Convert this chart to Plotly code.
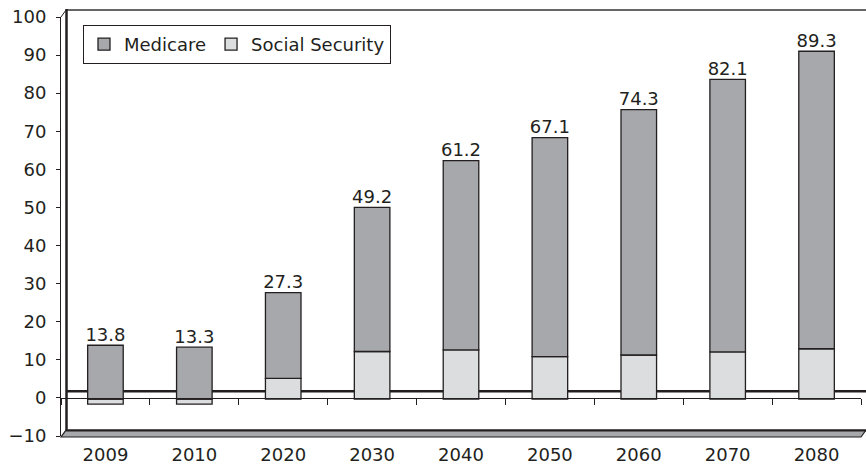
import plotly.graph_objects as go

years = ["2009", "2010", "2020", "2030", "2040", "2050", "2060", "2070", "2080"]
medicare = [13.8, 13.3, 22.0, 37.0, 48.6, 56.2, 63.0, 70.0, 76.4]
social_security = [-1.3, -1.3, 5.3, 12.2, 12.6, 10.9, 11.3, 12.1, 12.9]
totals = [13.8, 13.3, 27.3, 49.2, 61.2, 67.1, 74.3, 82.1, 89.3]
total_labels = ["13.8", "13.3", "27.3", "49.2", "61.2", "67.1", "74.3", "82.1", "89.3"]
y_ticks = [-10, 0, 10, 20, 30, 40, 50, 60, 70, 80, 90, 100]

W, H = 866, 470
ML, MR, MT, MB = 61, 5, 17, 31
PW, PH = W - ML - MR, H - MT - MB
DARK = "#231f20"
MED = "#a7a8ab"
SSC = "#dcdddf"
FONT = "DejaVu Sans"


def px(x):
    return (x - ML) / PW


def py(y):
    return (H - MB - y) / PH


fig = go.Figure()
# invisible trace so the value axis is drawn
fig.add_trace(go.Scatter(x=[years[0], years[-1]], y=[y_ticks[0], y_ticks[-1]],
                         mode="markers", marker=dict(opacity=0), showlegend=False,
                         hoverinfo="skip", xaxis="x", yaxis="y"))
fig.add_trace(go.Bar(x=years, y=social_security, name="Social Security",
                     marker=dict(color=SSC, line=dict(color=DARK, width=1.3)),
                     xaxis="x", yaxis="y2", width=0.4))
fig.add_trace(go.Bar(x=years, y=medicare, name="Medicare",
                     marker=dict(color=MED, line=dict(color=DARK, width=1.3)),
                     xaxis="x", yaxis="y2", width=0.4))
fig.add_trace(go.Scatter(x=years, y=totals, text=total_labels, mode="text",
                         textposition="top center", showlegend=False,
                         textfont=dict(family=FONT, size=18, color=DARK),
                         xaxis="x", yaxis="y2", cliponaxis=False))

shapes = []
# back-wall zero line
shapes.append(dict(type="line", xref="paper", yref="paper", x0=px(66), x1=px(866),
                   y0=py(394), y1=py(394), line=dict(color=DARK, width=2.5), layer="below"))
# top back line
shapes.append(dict(type="line", xref="paper", yref="paper", x0=px(66), x1=px(866),
                   y0=py(10), y1=py(10), line=dict(color="#666666", width=2), layer="below"))
# left back wall line
shapes.append(dict(type="line", xref="paper", yref="paper", x0=px(66.5), x1=px(66.5),
                   y0=py(9), y1=py(433), line=dict(color=DARK, width=2.5), layer="below"))
# top-left slant
shapes.append(dict(type="line", xref="paper", yref="paper", x0=px(61), x1=px(66),
                   y0=py(17), y1=py(10), line=dict(color=DARK, width=1), layer="below"))
# floor
shapes.append(dict(type="path", xref="paper", yref="paper",
                   path=f"M {px(66)} {py(433)} L {px(866)} {py(433)} L {px(861)} {py(440)} L {px(61)} {py(440)} Z",
                   fillcolor=MED, line=dict(color=DARK, width=1.2), layer="below"))
shapes.append(dict(type="line", xref="paper", yref="paper", x0=px(66), x1=px(866),
                   y0=py(433.5), y1=py(433.5), line=dict(color=DARK, width=2), layer="below"))

fig.update_layout(
    width=W, height=H,
    margin=dict(l=ML, r=MR, t=MT, b=MB, pad=0),
    paper_bgcolor="white", plot_bgcolor="rgba(0,0,0,0)",
    barmode="relative",
    font=dict(family=FONT, size=18, color=DARK),
    shapes=shapes,
    showlegend=True,
    legend=dict(orientation="h", x=px(83), y=py(25), xanchor="left", yanchor="top",
                bordercolor=DARK, borderwidth=1, bgcolor="white",
                font=dict(family=FONT, size=18, color=DARK), traceorder="reversed",
                itemwidth=30),
    xaxis=dict(type="category", categoryorder="array", categoryarray=years,
               anchor="free", position=py(401),
               showline=True, linecolor=DARK, linewidth=1,
               ticks="outside", ticklen=6, tickcolor=DARK, tickson="boundaries",
               ticklabelstandoff=40, showgrid=False, zeroline=False,
               tickfont=dict(family=FONT, size=18, color=DARK),
               range=[-0.5, 8.5], fixedrange=True),
    yaxis=dict(range=[-10, 100], tickmode="array", tickvals=y_ticks,
               showline=True, linecolor=DARK, side="left",
               linewidth=1, ticks="outside", ticklen=4, tickcolor=DARK,
               showgrid=False, zeroline=False, ticklabelstandoff=6,
               tickfont=dict(family=FONT, size=18, color=DARK)),
    yaxis2=dict(range=[-9.5, 98.1], overlaying="y", visible=False),
)

fig.write_html("out.html")
